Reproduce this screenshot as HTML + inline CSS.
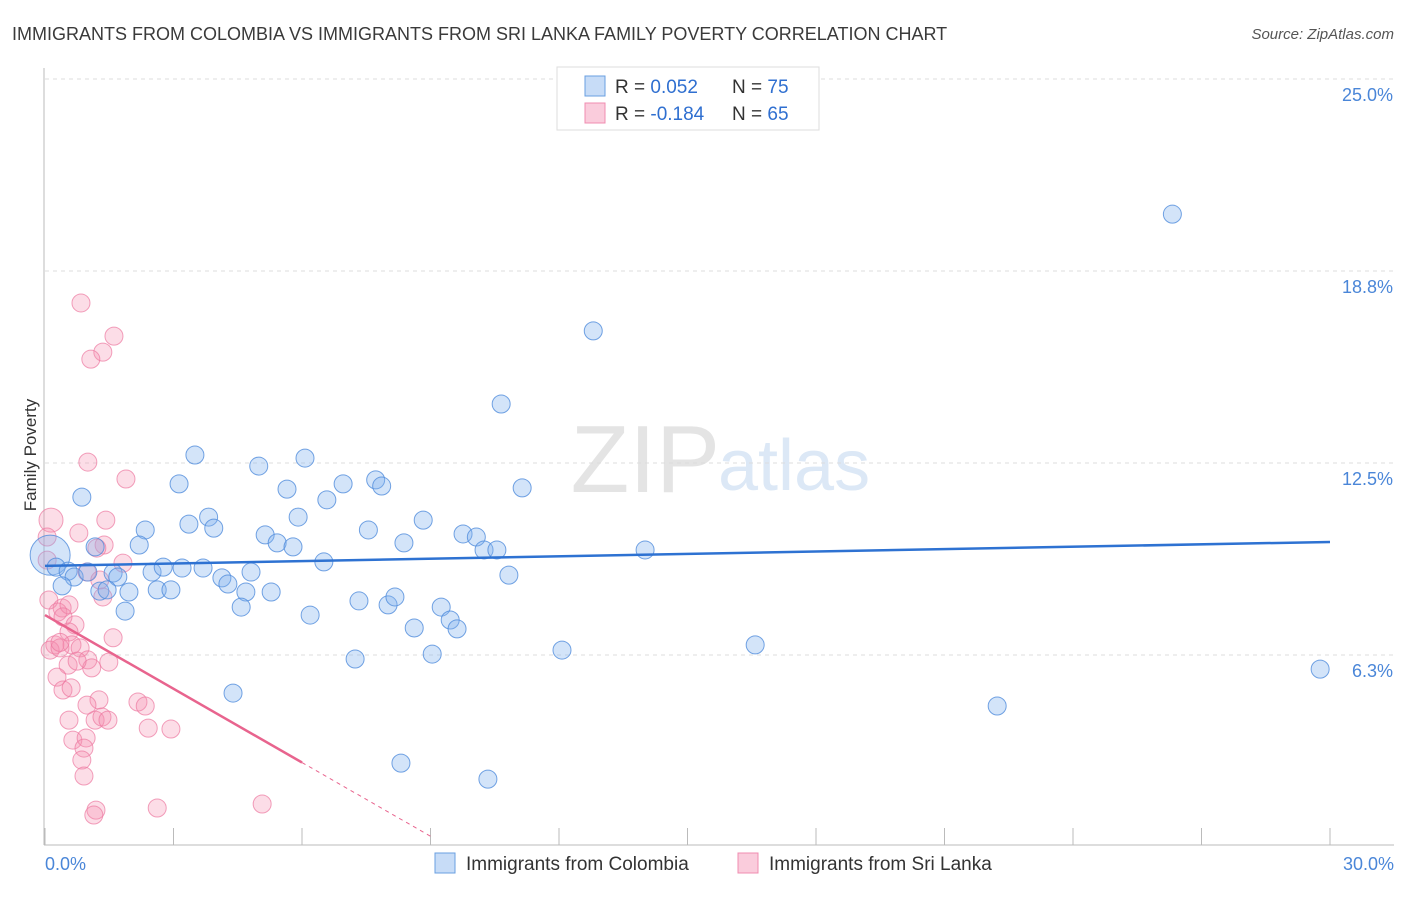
<!DOCTYPE html>
<html><head><meta charset="utf-8"><style>
body{margin:0;background:#fff;font-family:"Liberation Sans",sans-serif;}
svg text{font-family:"Liberation Sans",sans-serif;}
</style></head><body>
<svg width="1406" height="892" xmlns="http://www.w3.org/2000/svg">
<text x="12" y="40" font-size="18" fill="#3a3a3a">IMMIGRANTS FROM COLOMBIA VS IMMIGRANTS FROM SRI LANKA FAMILY POVERTY CORRELATION CHART</text>
<text x="1394" y="39" font-size="15" fill="#555" font-style="italic" text-anchor="end">Source: ZipAtlas.com</text>
<text x="720" y="492" font-size="96" fill="#e4e4e4" text-anchor="end" font-family="Liberation Serif">ZIP</text>
<text x="718" y="490" font-size="72" fill="#dce8f6">atlas</text>
<g id="grid"></g>
<line x1="44" y1="68" x2="44" y2="845" stroke="#bbb"/>
<line x1="44" y1="845" x2="1394" y2="845" stroke="#bbb"/>
<g id="xticks"></g>
<text x="36" y="455" font-size="17" fill="#333" text-anchor="middle" transform="rotate(-90 36 455)">Family Poverty</text>
<text x="45" y="870" font-size="18" fill="#4a86d8">0.0%</text>
<text x="1394" y="870" font-size="18" fill="#4a86d8" text-anchor="end">30.0%</text>
<g id="pts"></g>
<g id="trends"></g>
<g>
<rect x="557" y="67" width="262" height="63" fill="#fff" stroke="#ddd"/>
<rect x="585" y="76" width="20" height="20" fill="rgba(130,177,237,0.45)" stroke="#6a9fe0"/>
<rect x="585" y="103" width="20" height="20" fill="rgba(244,143,177,0.45)" stroke="#f08cb0"/>
<text x="615" y="93" font-size="19" fill="#333">R = <tspan fill="#2f6fd0"> 0.052</tspan><tspan x="732">N = </tspan><tspan fill="#2f6fd0">75</tspan></text>
<text x="615" y="120" font-size="19" fill="#333">R = <tspan fill="#2f6fd0">-0.184</tspan><tspan x="732">N = </tspan><tspan fill="#2f6fd0">65</tspan></text>
</g>
<g>
<rect x="435" y="853" width="20" height="20" fill="rgba(130,177,237,0.45)" stroke="#6a9fe0"/>
<text x="466" y="870" font-size="19" fill="#333">Immigrants from Colombia</text>
<rect x="738" y="853" width="20" height="20" fill="rgba(244,143,177,0.45)" stroke="#f08cb0"/>
<text x="769" y="870" font-size="19" fill="#333">Immigrants from Sri Lanka</text>
</g>
</svg>
<script>
const yTicks=[6.25,12.5,18.75,25];
const yTickLabels=["6.3%","12.5%","18.8%","25.0%"];
const xTicks=[0,3,6,9,12,15,18,21,24,27,30];
const blueX=[26.32,12.8,10.65,3.5,4.99,6.07,3.13,5.65,6.96,7.72,7.86,0.86,11.14,6.58,3.82,5.91,3.36,3.94,8.83,2.34,7.55,5.14,9.76,10.07,2.2,5.42,5.79,8.38,10.25,10.55,14.01,1.17,0.12,0.26,0.54,0.68,1.0,1.59,1.7,2.5,2.76,3.2,3.69,4.81,6.51,4.13,4.27,0.4,1.28,1.45,1.96,2.62,2.94,4.69,5.28,1.87,4.58,6.19,7.33,8.01,8.17,9.25,9.46,9.62,8.62,10.83,9.04,7.24,12.07,16.58,29.77,4.39,22.23,8.31,10.34];
const blueY=[20.6,16.8,14.42,12.76,12.4,12.66,11.82,11.65,11.82,11.95,11.75,11.39,11.69,11.3,10.74,10.74,10.51,10.38,10.64,10.32,10.32,10.16,10.19,10.09,9.83,9.9,9.77,9.9,9.67,9.67,9.67,9.77,9.5,9.11,8.98,8.79,8.95,8.92,8.79,8.95,9.11,9.08,9.08,8.95,9.28,8.76,8.56,8.5,8.33,8.37,8.3,8.37,8.37,8.3,8.3,7.68,7.81,7.55,8.01,7.88,8.14,7.81,7.39,7.1,7.13,8.85,6.28,6.12,6.41,6.58,5.79,5.01,4.59,2.73,2.21];
const pinkX=[0.84,1.61,1.35,1.07,1.0,1.89,0.14,1.42,0.79,0.05,1.38,1.21,1.82,0.05,0.98,1.28,1.35,0.09,0.4,0.3,0.56,0.42,0.7,1.59,0.56,0.63,0.23,0.12,0.35,0.82,1.0,1.09,0.54,0.75,1.49,0.28,0.42,0.61,1.26,0.98,2.17,2.34,0.56,1.17,1.33,1.47,2.41,2.94,0.65,0.96,0.91,0.86,0.91,1.19,1.14,2.62,5.07,0.35];
const pinkY=[17.71,16.63,16.11,15.88,12.53,11.98,10.64,10.64,10.22,10.09,9.83,9.73,9.24,9.34,8.95,8.69,8.14,8.04,7.78,7.65,7.88,7.49,7.23,6.81,7.0,6.58,6.58,6.41,6.48,6.48,6.09,5.83,5.92,6.05,6.02,5.53,5.11,5.18,4.79,4.62,4.72,4.59,4.13,4.13,4.23,4.13,3.87,3.84,3.48,3.55,3.22,2.83,2.31,1.2,1.04,1.27,1.4,6.66];
const blueTrend=[9.15,9.93];
const pinkTrend=[7.55,-0.8];
const NS="http://www.w3.org/2000/svg";
const X=v=>45+v/30*1285, Y=v=>847-v/6.25*192;
function mk(tag,attrs,parent){const e=document.createElementNS(NS,tag);for(const k in attrs)e.setAttribute(k,attrs[k]);parent.appendChild(e);return e;}
const grid=document.getElementById('grid');
yTicks.forEach((t,i)=>{
 const l=mk('line',{x1:45,x2:1394,y1:Y(t),y2:Y(t),stroke:'#ddd','stroke-dasharray':'4,4'},grid);
 
 
 const tx=mk('text',{x:1393,y:Y(t)+22,'font-size':18,fill:'#4a86d8','text-anchor':'end'},grid);
 tx.textContent=yTickLabels[i];
 
 
});
const xt=document.getElementById('xticks');
xTicks.forEach(t=>{
 const l=mk('line',{x1:X(t),x2:X(t),y1:828,y2:845,stroke:'#bbb'},xt);
 
 
});
const pts=document.getElementById('pts');
pinkX.forEach((x,i)=>{
 const c=mk('circle',{cx:X(x),cy:Y(pinkY[i]),r:(i==6?12:9),fill:'rgba(244,143,177,0.3)',stroke:'rgba(236,120,160,0.7)','stroke-width':1},pts);
 
 
});
blueX.forEach((x,i)=>{
 const c=mk('circle',{cx:X(x),cy:Y(blueY[i]),r:(i==32?20:9),fill:'rgba(130,177,237,0.35)',stroke:'rgba(80,140,220,0.8)','stroke-width':1},pts);
 
 
});
const tr=document.getElementById('trends');
const b=mk('line',{x1:X(0),y1:Y(blueTrend[0]),x2:X(30),y2:Y(blueTrend[1]),stroke:'#2e72d2','stroke-width':2.5},tr);


const p=mk('line',{x1:X(0),y1:Y(pinkTrend[0]),x2:X(6),y2:Y(pinkTrend[0]+pinkTrend[1]*6),stroke:'#e8648e','stroke-width':2.5},tr);


const pd=mk('line',{x1:X(6),y1:Y(pinkTrend[0]+pinkTrend[1]*6),x2:X(9),y2:Y(pinkTrend[0]+pinkTrend[1]*9),stroke:'#e8648e','stroke-width':1,'stroke-dasharray':'4,4'},tr);


</script>
</body></html>
